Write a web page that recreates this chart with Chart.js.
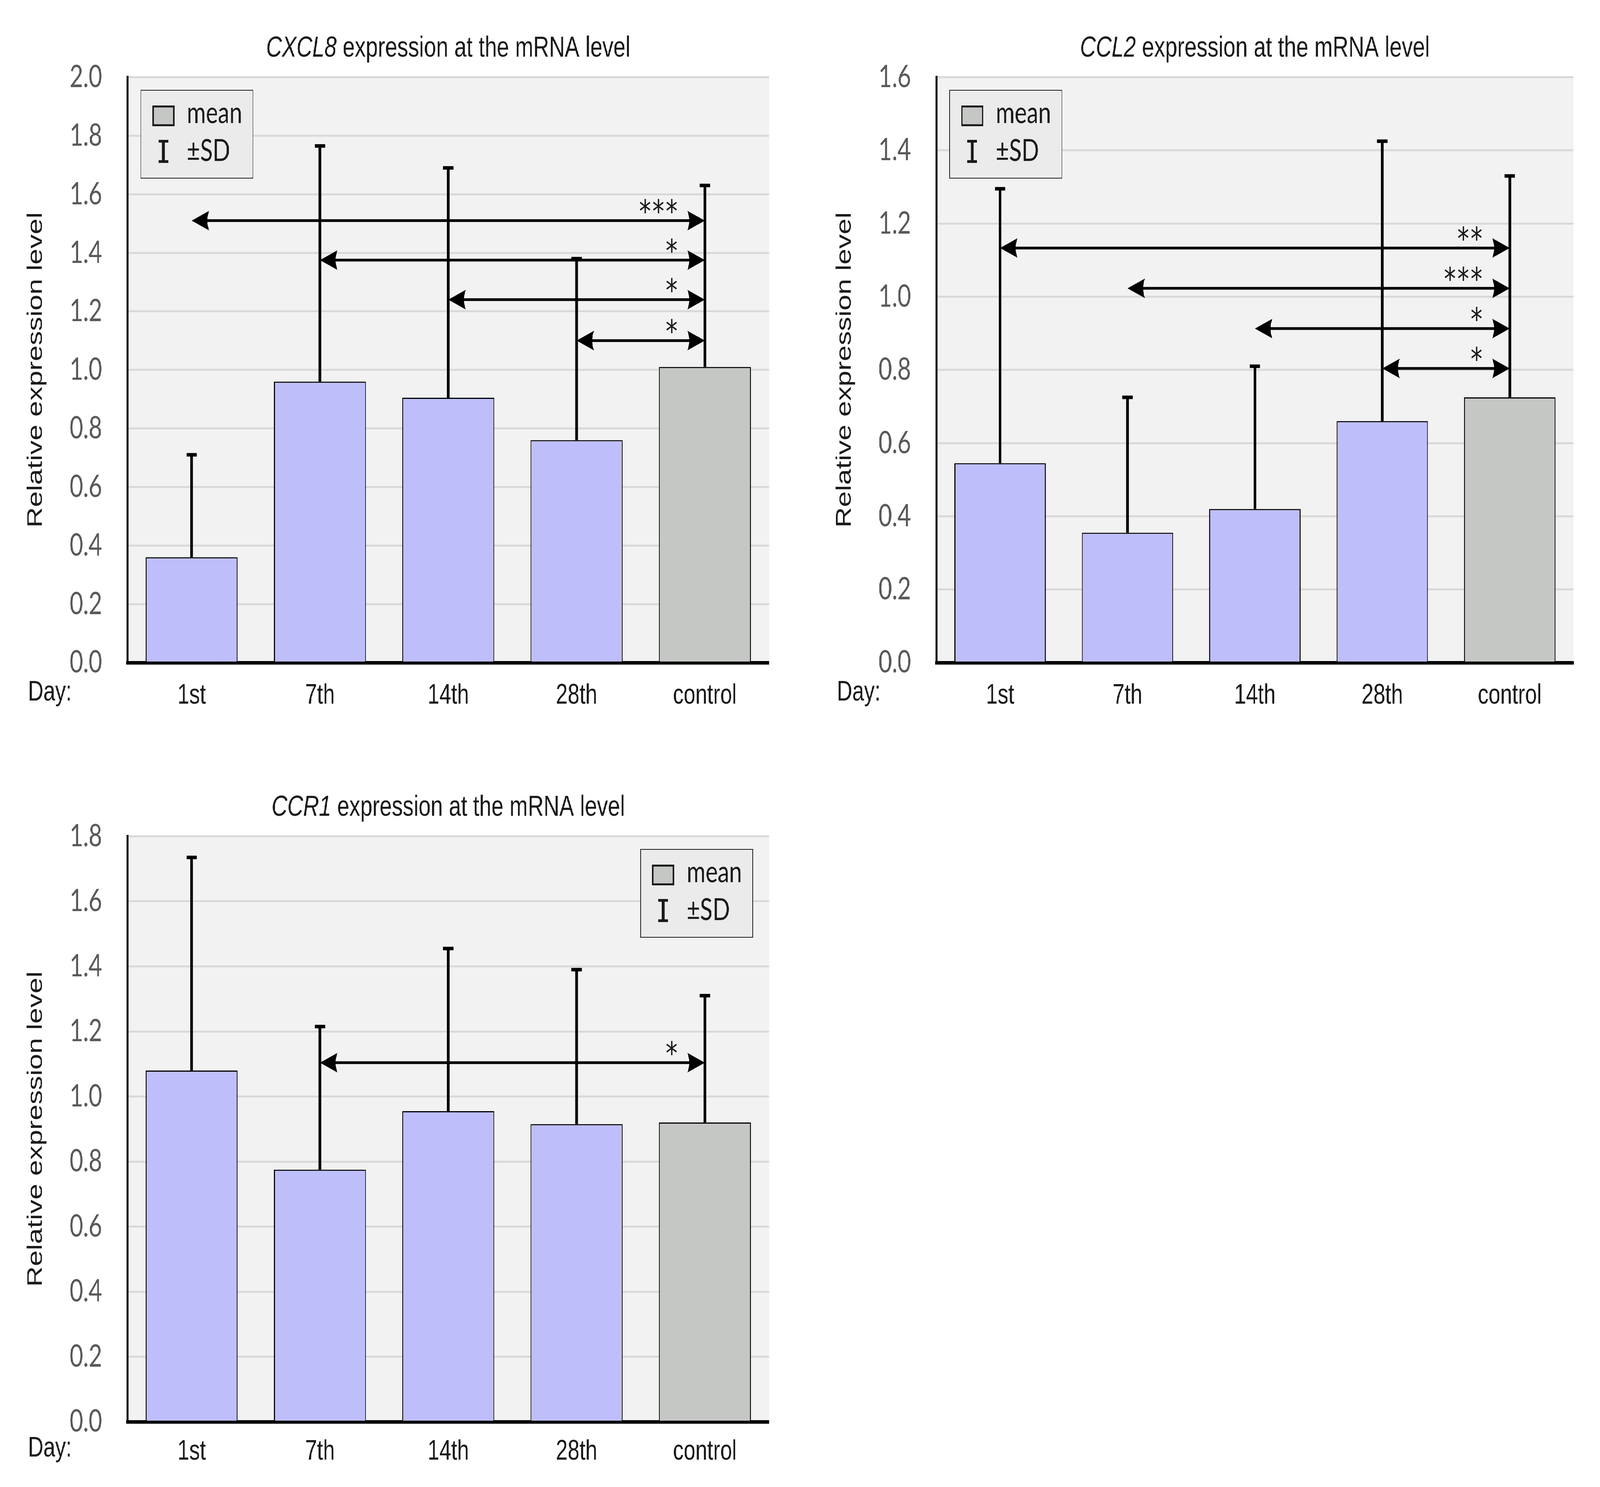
<!DOCTYPE html>
<html>
<head>
<meta charset="utf-8">
<title>Relative expression levels</title>
<script src="https://cdn.jsdelivr.net/npm/chart.js@4.4.1/dist/chart.umd.min.js"></script>
<style>
  html, body { margin: 0; padding: 0; background: #fff; overflow: hidden; }
  /* the window is only 4096px wide, so the 5420px page is squeezed horizontally to fit */
  #page { position: relative; width: 5420px; height: 3806px; transform: scale(0.755720, 1); transform-origin: 0 0; }
  canvas { position: absolute; }
</style>
</head>
<body>
<div id="page">
<canvas id="cxcl8" width="2740" height="1900" style="left:0;top:0;width:2740px;height:1900px"></canvas>
<canvas id="ccl2" width="2680" height="1900" style="left:2740px;top:0;width:2680px;height:1900px"></canvas>
<canvas id="ccr1" width="2740" height="1863" style="left:0;top:1943px;width:2740px;height:1863px"></canvas>
</div>
<script>
const days = ['1st', '7th', '14th', '28th', 'control'];

// CXCL8
const cxcl8Mean = [0.36, 0.96, 0.905, 0.76, 1.01];
const cxcl8Sd = [0.35, 0.805, 0.785, 0.62, 0.62];
const cxcl8SigFrom = [0, 1, 2, 3];
const cxcl8SigY = [1.51, 1.375, 1.24, 1.10];
const cxcl8SigStars = ['***', '*', '*', '*'];

// CCL2
const ccl2Mean = [0.545, 0.355, 0.42, 0.66, 0.725];
const ccl2Sd = [0.75, 0.37, 0.39, 0.765, 0.605];
const ccl2SigFrom = [0, 1, 2, 3];
const ccl2SigY = [1.133, 1.023, 0.913, 0.804];
const ccl2SigStars = ['**', '***', '*', '*'];

// CCR1
const ccr1Mean = [1.08, 0.775, 0.955, 0.915, 0.92];
const ccr1Sd = [0.655, 0.44, 0.5, 0.475, 0.39];
const ccr1SigFrom = [1];
const ccr1SigY = [1.104];
const ccr1SigStars = ['*'];

const ARIAL = '"Liberation Sans", Arial, sans-serif';
const LATO = 'Lato, "Open Sans", sans-serif';

function arrowHead(ctx, tx, ty, dir) {
    ctx.beginPath();
    ctx.moveTo(tx, ty);
    ctx.lineTo(tx - dir * 59, ty - 25);
    ctx.quadraticCurveTo(tx - dir * 47, ty, tx - dir * 59, ty + 25);
    ctx.closePath();
    ctx.fill();
}

const decorations = {
    id: 'decorations',
    beforeDraw(chart) {
        const { ctx, chartArea: a } = chart;
        ctx.save();
        ctx.fillStyle = '#f2f2f2';
        ctx.fillRect(a.left, a.top, a.right - a.left, a.bottom - a.top);
        ctx.restore();
    },
    afterDatasetsDraw(chart, args, opts) {
        const { ctx, chartArea: a, scales: { x, y } } = chart;
        const meta = chart.getDatasetMeta(0);
        ctx.save();
        ctx.fillStyle = '#000';

        // +SD whiskers
        opts.mean.forEach((m, i) => {
            const cx = meta.data[i].x;
            const yTop = y.getPixelForValue(m + opts.sd[i]);
            const yBar = y.getPixelForValue(m);
            ctx.fillRect(cx - 4.5, yTop, 9, yBar - yTop);
            ctx.fillRect(cx - 17.5, yTop - 4.5, 35, 9);
        });

        // significance arrows towards control
        const last = days.length - 1;
        ctx.font = '80px "DejaVu Sans"';
        ctx.textAlign = 'center';
        ctx.textBaseline = 'alphabetic';
        const sm = ctx.measureText('*');
        const starMid = (sm.actualBoundingBoxAscent - sm.actualBoundingBoxDescent) / 2;
        opts.sigFrom.forEach((f, k) => {
            const x1 = x.getPixelForValue(f);
            const x2 = x.getPixelForValue(last);
            const yy = y.getPixelForValue(opts.sigY[k]);
            ctx.fillStyle = '#000';
            ctx.fillRect(x1 + 20, yy - 3.5, x2 - x1 - 40, 7);
            arrowHead(ctx, x2, yy, 1);
            arrowHead(ctx, x1, yy, -1);
            const stars = opts.sigStars[k];
            ctx.fillStyle = '#1a1a1a';
            for (let j = 0; j < stars.length; j++) {
                const sx = x2 - 112.5 - (stars.length - 1 - j) * 45;
                ctx.fillText('*', sx, yy - 37.5 + starMid);
            }
        });

        // legend box
        const w = 380, h = 225;
        const L = opts.legendAt === 'right' ? a.right - 55 - w : a.left + 45;
        const T = a.top + 33.5;
        ctx.fillStyle = '#ebebeb';
        ctx.fillRect(L, T, w, h);
        ctx.strokeStyle = '#1a1a1a';
        ctx.lineWidth = 2;
        ctx.strokeRect(L, T, w, h);
        ctx.fillStyle = '#c5c7c5';
        ctx.fillRect(L + 39, T + 39, 75, 53);
        ctx.lineWidth = 5;
        ctx.strokeRect(L + 41.5, T + 41.5, 70, 48);
        ctx.fillStyle = '#1a1a1a';
        ctx.fillRect(L + 71.5, T + 127, 10, 59);
        ctx.fillRect(L + 60, T + 127, 33, 7);
        ctx.fillRect(L + 60, T + 179, 33, 7);
        ctx.font = '78px ' + LATO;
        ctx.textAlign = 'left';
        ctx.textBaseline = 'alphabetic';
        ctx.fillText('mean', L + 156, T + 84);
        ctx.fillText('\u00b1SD', L + 156, T + 181);
        ctx.restore();
    },
    afterDraw(chart, args, opts) {
        const { ctx, chartArea: a } = chart;
        ctx.save();
        ctx.fillStyle = '#1a1a1a';
        ctx.textBaseline = 'alphabetic';
        ctx.textAlign = 'left';
        const rest = ' expression at the mRNA level';
        ctx.font = 'italic 74px ' + ARIAL;
        const w1 = ctx.measureText(opts.gene).width;
        ctx.font = '74px ' + ARIAL;
        const w2 = ctx.measureText(rest).width;
        const sx = (a.left + a.right) / 2 - (w1 + w2) / 2;
        const by = a.top - 53;
        ctx.font = 'italic 74px ' + ARIAL;
        ctx.fillText(opts.gene, sx, by);
        ctx.font = '74px ' + ARIAL;
        ctx.fillText(rest, sx + w1, by);

        ctx.font = '72px ' + ARIAL;
        ctx.textBaseline = 'middle';
        ctx.fillText('Day:', 95, a.bottom + opts.labelPad + 43.2);
        ctx.restore();
    }
};

function buildChart(id, mean, sd, sigFrom, sigY, sigStars, yMax, gene, legendAt, labelPad, rightPad) {
    const canvas = document.getElementById(id);
    const barColors = days.map((d, i) => (i === days.length - 1 ? '#c5c7c5' : '#bebefb'));
    return new Chart(canvas.getContext('2d'), {
        type: 'bar',
        data: {
            labels: days,
            datasets: [{
                data: mean,
                backgroundColor: barColors,
                borderColor: '#000',
                borderWidth: 3,
                borderSkipped: 'bottom',
                barPercentage: 0.717,
                categoryPercentage: 1,
            }],
        },
        options: {
            responsive: false,
            animation: false,
            devicePixelRatio: 1,
            layout: { padding: { left: 0, top: 197.5, right: rightPad, bottom: 0 } },
            plugins: {
                legend: { display: false },
                tooltip: { enabled: false },
                decorations: { mean, sd, sigFrom, sigY, sigStars, gene, legendAt, labelPad },
            },
            scales: {
                x: {
                    type: 'category',
                    z: 1,
                    grid: { display: false },
                    border: { color: '#000', width: 9 },
                    ticks: {
                        color: '#1a1a1a',
                        font: { family: ARIAL, size: 72 },
                        padding: labelPad,
                        maxRotation: 0,
                        autoSkip: false,
                    },
                    afterFit: (s) => { s.height = canvas.height - 1696; },
                },
                y: {
                    min: 0,
                    max: yMax,
                    grid: { color: '#d9d9d9', lineWidth: 5, drawTicks: false },
                    border: { color: '#000', width: 7 },
                    ticks: {
                        stepSize: 0.2,
                        color: '#595959',
                        font: { family: LATO, size: 79 },
                        padding: 86,
                        callback: (v) => v.toFixed(1),
                    },
                    title: {
                        display: true,
                        text: 'Relative expression level',
                        color: '#1a1a1a',
                        font: { family: ARIAL, size: 73 },
                        padding: { top: 78, bottom: 0 },
                    },
                    afterFit: (s) => { s.width = 432; },
                },
            },
        },
        plugins: [decorations],
    });
}

buildChart('cxcl8', cxcl8Mean, cxcl8Sd, cxcl8SigFrom, cxcl8SigY, cxcl8SigStars, 2.0, 'CXCL8', 'left', 34, 135);
buildChart('ccl2', ccl2Mean, ccl2Sd, ccl2SigFrom, ccl2SigY, ccl2SigStars, 1.6, 'CCL2', 'left', 34, 90);
buildChart('ccr1', ccr1Mean, ccr1Sd, ccr1SigFrom, ccr1SigY, ccr1SigStars, 1.8, 'CCR1', 'right', 26, 135);
</script>
</body>
</html>
